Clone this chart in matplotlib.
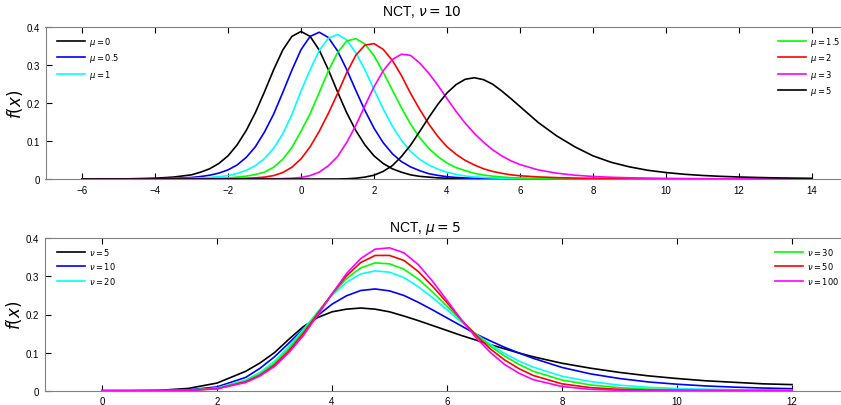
import matplotlib.pyplot as plt

plt.rcParams['font.family'] = ['Liberation Sans', 'DejaVu Sans']
plt.rcParams['mathtext.fontset'] = 'dejavusans'

# ---- top panel: NCT, nu = 10, several mu ----
x_top = [-6, -5.5, -5, -4.5, -4, -3.5, -3, -2.75, -2.5, -2.25, -2, -1.75, -1.5,
         -1.25, -1, -0.75, -0.5, -0.25, 0, 0.25, 0.5, 0.75, 1,
         1.25, 1.5, 1.75, 2, 2.25, 2.5, 2.75, 3, 3.25, 3.5,
         3.75, 4, 4.25, 4.5, 4.75, 5, 5.25, 5.5, 5.75, 6,
         6.5, 7, 7.5, 8, 8.5, 9, 9.5, 10, 10.5, 11,
         11.5, 12, 12.5, 13, 13.5, 14]

mu_0 = [0, 0, 0, 0.001, 0.002, 0.005, 0.011, 0.018, 0.027, 0.041, 0.061, 0.090, 0.128,
        0.175, 0.230, 0.288, 0.340, 0.376, 0.389, 0.376, 0.340, 0.288, 0.230,
        0.175, 0.128, 0.090, 0.061, 0.041, 0.027, 0.018, 0.011, 0.007, 0.005,
        0.003, 0.002, 0.001, 0.001, 0.001, 0, 0, 0, 0, 0,
        0, 0, 0, 0, 0, 0, 0, 0, 0, 0,
        0, 0, 0, 0, 0, 0]
mu_05 = [0, 0, 0, 0, 0.001, 0.002, 0.004, 0.0065, 0.010, 0.0155, 0.024, 0.037, 0.057,
         0.085, 0.124, 0.171, 0.228, 0.287, 0.341, 0.376, 0.387, 0.373, 0.338,
         0.289, 0.234, 0.181, 0.134, 0.096, 0.067, 0.046, 0.032, 0.022, 0.014,
         0.0095, 0.006, 0.004, 0.003, 0.002, 0.0013, 0.001, 0.0006, 0.0004, 0.0003,
         0, 0, 0, 0, 0, 0, 0, 0, 0, 0,
         0, 0, 0, 0, 0, 0]
mu_1 = [0, 0, 0, 0, 0, 0.001, 0.0015, 0.0025, 0.004, 0.006, 0.009, 0.0145, 0.023,
        0.035, 0.054, 0.081, 0.119, 0.170, 0.232, 0.288, 0.339, 0.371, 0.381,
        0.367, 0.333, 0.288, 0.236, 0.185, 0.140, 0.102, 0.073, 0.052, 0.037,
        0.026, 0.018, 0.012, 0.008, 0.0055, 0.004, 0.0028, 0.002, 0.0014, 0.001,
        0.0005, 0.0003, 0, 0, 0, 0, 0, 0, 0, 0,
        0, 0, 0, 0, 0, 0]
mu_15 = [0, 0, 0, 0, 0, 0, 0.0005, 0.0007, 0.001, 0.002, 0.003, 0.005, 0.0075,
         0.012, 0.018, 0.031, 0.052, 0.083, 0.126, 0.172, 0.228, 0.285, 0.333,
         0.364, 0.370, 0.356, 0.325, 0.282, 0.235, 0.188, 0.145, 0.109, 0.081,
         0.059, 0.042, 0.030, 0.022, 0.015, 0.0105, 0.0075, 0.0053, 0.0038, 0.0028,
         0.0015, 0.0008, 0.0005, 0.0003, 0, 0, 0, 0, 0, 0,
         0, 0, 0, 0, 0, 0]
mu_2 = [0, 0, 0, 0, 0, 0, 0, 0, 0, 0, 0, 0.001, 0.002,
        0.003, 0.005, 0.009, 0.017, 0.031, 0.053, 0.085, 0.126, 0.173, 0.225,
        0.280, 0.326, 0.353, 0.357, 0.342, 0.313, 0.273, 0.226, 0.184, 0.145,
        0.112, 0.085, 0.065, 0.049, 0.037, 0.027, 0.020, 0.015, 0.011, 0.0085,
        0.0055, 0.0037, 0.0025, 0.0017, 0.0012, 0.0008, 0.0006, 0.0004, 0, 0,
        0, 0, 0, 0, 0, 0]
mu_3 = [0, 0, 0, 0, 0, 0, 0, 0, 0, 0, 0, 0, 0,
        0, 0, 0.0005, 0.001, 0.002, 0.004, 0.009, 0.018, 0.035, 0.059,
        0.096, 0.141, 0.193, 0.243, 0.285, 0.315, 0.329, 0.326, 0.306, 0.279,
        0.247, 0.212, 0.178, 0.147, 0.120, 0.097, 0.077, 0.061, 0.048, 0.038,
        0.024, 0.0155, 0.010, 0.0067, 0.0046, 0.0032, 0.0023, 0.0016, 0.0012, 0.0009,
        0.0007, 0.0005, 0.0004, 0.0003, 0.0002, 0.0002]
mu_5 = [0, 0, 0, 0, 0, 0, 0, 0, 0, 0, 0, 0, 0,
        0, 0, 0, 0, 0, 0, 0, 0, 0, 0,
        0.0005, 0.002, 0.005, 0.010, 0.020, 0.035, 0.059, 0.089, 0.125, 0.162,
        0.197, 0.227, 0.249, 0.263, 0.267, 0.262, 0.250, 0.232, 0.212, 0.191,
        0.149, 0.114, 0.085, 0.061, 0.044, 0.032, 0.023, 0.017, 0.0125, 0.0093,
        0.007, 0.0053, 0.004, 0.003, 0.0023, 0.0018]

top_series = [mu_0, mu_05, mu_1, mu_15, mu_2, mu_3, mu_5]
top_labels = ['$\\mu = 0$', '$\\mu = 0.5$', '$\\mu = 1$', '$\\mu = 1.5$',
              '$\\mu = 2$', '$\\mu = 3$', '$\\mu = 5$']
top_colors = ['#000000', '#0000ff', '#00ffff', '#00ff00', '#ff0000', '#ff00ff', '#000000']

# ---- bottom panel: NCT, mu = 5, several nu ----
x_bot = [0, 0.5, 1, 1.5, 2, 2.5, 2.75, 3, 3.25, 3.5,
         3.75, 4, 4.25, 4.5, 4.75, 5, 5.25, 5.5, 5.75, 6,
         6.25, 6.5, 6.75, 7, 7.25, 7.5, 8, 8.5, 9, 9.5,
         10, 10.5, 11, 11.5, 12]

nu_5 = [0, 0, 0.001, 0.006, 0.020, 0.051, 0.073, 0.100, 0.135, 0.168,
        0.192, 0.207, 0.214, 0.217, 0.214, 0.207, 0.196, 0.184, 0.171, 0.158,
        0.145, 0.133, 0.121, 0.110, 0.099, 0.089, 0.072, 0.059, 0.048, 0.039,
        0.032, 0.026, 0.022, 0.018, 0.016]
nu_10 = [0, 0, 0, 0.002, 0.010, 0.035, 0.059, 0.089, 0.125, 0.162,
         0.197, 0.227, 0.249, 0.263, 0.267, 0.262, 0.250, 0.232, 0.212, 0.191,
         0.170, 0.149, 0.131, 0.114, 0.099, 0.085, 0.061, 0.044, 0.032, 0.023,
         0.017, 0.0125, 0.0093, 0.007, 0.0053]
nu_20 = [0, 0, 0, 0.001, 0.007, 0.028, 0.048, 0.0775, 0.116, 0.1605,
         0.2065, 0.250, 0.2845, 0.3065, 0.3145, 0.311, 0.297, 0.273, 0.244, 0.212,
         0.180, 0.149, 0.122, 0.098, 0.078, 0.062, 0.038, 0.024, 0.0145, 0.009,
         0.0058, 0.0038, 0.0026, 0.0018, 0.0013]
nu_30 = [0, 0, 0, 0.001, 0.006, 0.0253, 0.0443, 0.072, 0.110, 0.1555,
         0.2045, 0.2525, 0.294, 0.3225, 0.3355, 0.333, 0.319, 0.293, 0.259, 0.222,
         0.184, 0.149, 0.117, 0.091, 0.069, 0.051, 0.028, 0.015, 0.0078, 0.0042,
         0.0024, 0.0014, 0.0009, 0.0006, 0.0004]
nu_50 = [0, 0, 0, 0.001, 0.005, 0.0235, 0.0405, 0.0675, 0.1045, 0.150,
         0.2015, 0.2545, 0.301, 0.3365, 0.355, 0.355, 0.342, 0.313, 0.274, 0.231,
         0.186, 0.146, 0.110, 0.081, 0.058, 0.040, 0.018, 0.008, 0.0035, 0.0016,
         0.0008, 0.0004, 0.0002, 0.0001, 0.0001]
nu_100 = [0, 0, 0.0001, 0.001, 0.005, 0.0215, 0.039, 0.0635, 0.100, 0.1445,
          0.198, 0.254, 0.307, 0.347, 0.3715, 0.375, 0.362, 0.331, 0.287, 0.237,
          0.186, 0.140, 0.101, 0.069, 0.046, 0.029, 0.011, 0.0036, 0.001, 0.0003,
          0.0001, 0, 0, 0, 0]

bot_series = [nu_5, nu_10, nu_20, nu_30, nu_50, nu_100]
bot_labels = ['$\\nu = 5$', '$\\nu = 10$', '$\\nu = 20$', '$\\nu = 30$',
              '$\\nu = 50$', '$\\nu = 100$']
bot_colors = ['#000000', '#0000ff', '#00ffff', '#00ff00', '#ff0000', '#ff00ff']

W, H = 841, 406


def style_axes(ax):
    for side in ['left', 'top', 'bottom', 'right']:
        ax.spines[side].set_color('#808080')
    ax.tick_params(direction='in', length=4, width=0.8, color='k',
                   top=True, right=True, labelsize=7, pad=4)
    ax.set_ylim(0, 0.4)
    ax.set_yticks([0, 0.1, 0.2, 0.3, 0.4])
    ax.set_yticklabels(['0', '0.1', '0.2', '0.3', '0.4'])
    ax.set_ylabel('$f(x)$', fontsize=12)
    ax.yaxis.set_label_coords(-0.0255, 0.5)


fig = plt.figure(figsize=(W / 100, H / 100), dpi=100)

leg_kw = dict(frameon=False, fontsize=6, handlelength=3.4, handletextpad=0.45,
              labelspacing=0.4, borderpad=0, borderaxespad=0,
              bbox_transform=fig.transFigure)

# top
ax1 = fig.add_axes([45.5 / W, 1 - 180 / H, 803 / W, 151.7 / H])
h1 = []
for y, c, lab in zip(top_series, top_colors, top_labels):
    h1 += ax1.plot(x_top, y, color=c, lw=1.2, label=lab)
ax1.set_xlim(-7, 15)
ax1.set_xticks(range(-6, 15, 2))
style_axes(ax1)

leg = ax1.legend(handles=h1[:3], loc='upper left',
                 bbox_to_anchor=(57 / W, 1 - 36 / H), **leg_kw)
ax1.add_artist(leg)
ax1.legend(handles=h1[3:], loc='upper left',
           bbox_to_anchor=(778 / W, 1 - 36 / H), **leg_kw)
fig.text(422 / W, 1 - 12 / H, 'NCT, $\\nu = 10$', ha='center', va='center', fontsize=10)

# bottom
ax2 = fig.add_axes([44.5 / W, 1 - 391.7 / H, 805 / W, 152.4 / H])
h2 = []
for y, c, lab in zip(bot_series, bot_colors, bot_labels):
    h2 += ax2.plot(x_bot, y, color=c, lw=1.2, label=lab)
ax2.set_xlim(-1, 13)
ax2.set_xticks(range(0, 13, 2))
style_axes(ax2)

leg = ax2.legend(handles=h2[:3], loc='upper left',
                 bbox_to_anchor=(57 / W, 1 - 247 / H), **leg_kw)
ax2.add_artist(leg)
ax2.legend(handles=h2[3:], loc='upper left',
           bbox_to_anchor=(775 / W, 1 - 247 / H), **leg_kw)
fig.text(425 / W, 1 - 229 / H, 'NCT, $\\mu = 5$', ha='center', va='center', fontsize=10)

fig.savefig('out.png', dpi=100)
